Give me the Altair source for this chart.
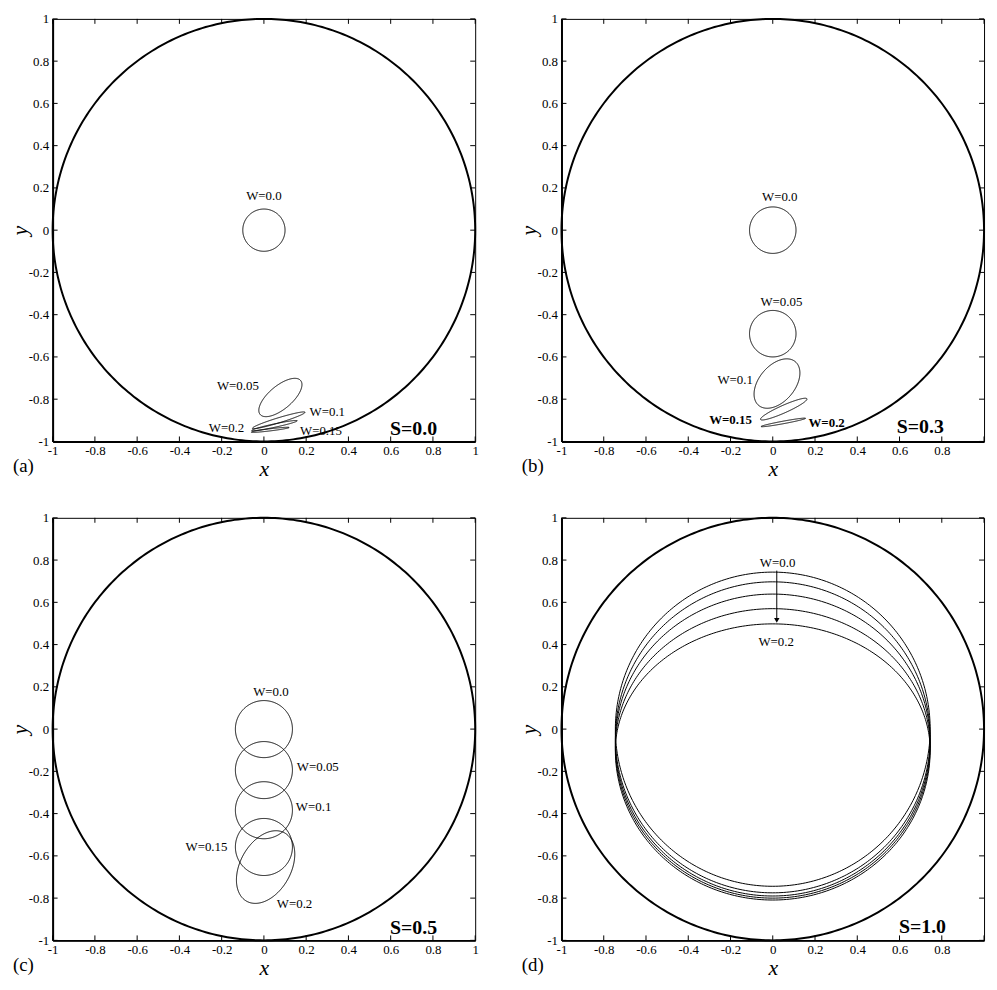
import altair as alt
import numpy as np
import pandas as pd

FONT = "Liberation Serif"

tick_values = [-1.0, -0.8, -0.6, -0.4, -0.2, 0.0, 0.2, 0.4, 0.6, 0.8, 1.0]
# right-hand panels show no "1" label on the x axis (cut off at the page edge)
x_labels_left = [-1.0, -0.8, -0.6, -0.4, -0.2, 0.0, 0.2, 0.4, 0.6, 0.8, 1.0]
x_labels_right = [-1.0, -0.8, -0.6, -0.4, -0.2, 0.0, 0.2, 0.4, 0.6, 0.8]

# Outer wall (unit circle): centre x, centre y, half-width, half-heights, tilt (deg)
wall = [0.0, 0.0, 1.0, 1.0, 1.0, 0.0]

# Closed curves, read off the picture as
# centre, half-width, upper / lower half-height and tilt angle (degrees)
curve_names = ["W=0.0", "W=0.05", "W=0.1", "W=0.15", "W=0.2"]

a_cx = [0.0, 0.078, 0.07, 0.05, 0.03]
a_cy = [0.0, -0.792, -0.90, -0.925, -0.945]
a_rx = [0.10, 0.125, 0.13, 0.11, 0.09]
a_ry_up = [0.10, 0.055, 0.012, 0.008, 0.005]
a_ry_dn = [0.10, 0.055, 0.012, 0.008, 0.005]
a_tilt = [0.0, 40.0, 17.0, 12.0, 7.0]

b_cx = [0.0, 0.0, 0.02, 0.052, 0.05]
b_cy = [0.0, -0.49, -0.726, -0.847, -0.91]
b_rx = [0.11, 0.11, 0.135, 0.12, 0.107]
b_ry_up = [0.11, 0.11, 0.085, 0.018, 0.006]
b_ry_dn = [0.11, 0.11, 0.085, 0.018, 0.006]
b_tilt = [0.0, 0.0, 50.0, 24.0, 10.5]

c_cx = [0.0, 0.0, 0.0, 0.0, 0.008]
c_cy = [0.0, -0.194, -0.384, -0.558, -0.653]
c_rx = [0.135, 0.135, 0.135, 0.135, 0.185]
c_ry_up = [0.135, 0.135, 0.135, 0.135, 0.12]
c_ry_dn = [0.135, 0.135, 0.135, 0.135, 0.12]
c_tilt = [0.0, 0.0, 0.0, 0.0, 61.0]

d_cx = [0.0, 0.0, 0.0, 0.0, 0.0]
d_cy = [0.0, -0.04, -0.06, -0.08, -0.10]
d_rx = [0.745, 0.745, 0.745, 0.745, 0.745]
d_ry_up = [0.743, 0.737, 0.699, 0.650, 0.598]
d_ry_dn = [0.744, 0.735, 0.730, 0.720, 0.709]
d_tilt = [0.0, 0.0, 0.0, 0.0, 0.0]

# Curve labels: text, x, y, bold
a_lab_text = ["W=0.0", "W=0.05", "W=0.1", "W=0.15", "W=0.2"]
a_lab_x = [0.0, -0.123, 0.30, 0.27, -0.177]
a_lab_y = [0.16, -0.74, -0.862, -0.95, -0.938]
a_lab_bold = [False, False, False, False, False]

b_lab_text = ["W=0.0", "W=0.05", "W=0.1", "W=0.15", "W=0.2"]
b_lab_x = [0.033, 0.041, -0.178, -0.20, 0.255]
b_lab_y = [0.158, -0.342, -0.707, -0.897, -0.912]
b_lab_bold = [False, False, False, True, True]

c_lab_text = ["W=0.0", "W=0.05", "W=0.1", "W=0.15", "W=0.2"]
c_lab_x = [0.033, 0.255, 0.235, -0.272, 0.145]
c_lab_y = [0.177, -0.18, -0.367, -0.56, -0.83]
c_lab_bold = [False, False, False, False, False]

d_lab_text = ["W=0.0", "W=0.2"]
d_lab_x = [0.023, 0.016]
d_lab_y = [0.786, 0.414]
d_lab_bold = [False, False]

# Panel tags and S values
panel_tags = ["(a)", "(b)", "(c)", "(d)"]
s_text = ["S=0.0", "S=0.3", "S=0.5", "S=1.0"]
s_x = [0.82, 0.81, 0.82, 0.82]
s_y = [-0.97, -0.96, -0.97, -0.966]

# Arrow in panel (d): x, y start, y end
d_arrow = [0.019, 0.75, 0.515]

W = 426
H = 426


def outline(name, cx, cy, rx, ry_up, ry_dn, tilt, n=361):
    t = np.linspace(0.0, 2.0 * np.pi, n)
    u = rx * np.cos(t)
    s = np.sin(t)
    v = np.where(s >= 0, ry_up * s, ry_dn * s)
    th = np.radians(tilt)
    x = cx + u * np.cos(th) - v * np.sin(th)
    y = cy + u * np.sin(th) + v * np.cos(th)
    return pd.DataFrame({"curve": name, "k": np.arange(n), "x": x, "y": y})


def curves_df(cx, cy, rx, ryu, ryd, tilt):
    parts = [outline(curve_names[i], cx[i], cy[i], rx[i], ryu[i], ryd[i], tilt[i])
             for i in range(len(cx))]
    return pd.concat(parts, ignore_index=True)


xs = alt.Scale(domain=[-1, 1], nice=False, zero=False)
ys = alt.Scale(domain=[-1, 1], nice=False, zero=False)

label_expr = "datum.value < 0 ? '-' + format(-datum.value, '~g') : format(datum.value, '~g')"


def make_x_axis(vals):
    return alt.Axis(
        values=vals, labelExpr=label_expr, title="x",
        titleFont=FONT, titleFontStyle="italic", titleFontWeight="normal", titleFontSize=22,
        titleColor="black", titleX=W / 2, titleY=34, titleBaseline="alphabetic",
        titleAlign="center",
        labelFont=FONT, labelFontSize=13, labelColor="black", labelPadding=3,
        labelFlush=False, labelOverlap=False,
        ticks=False, tickSize=0, domainColor="black", domainWidth=2, grid=False,
    )


y_axis = alt.Axis(
    values=tick_values, labelExpr=label_expr, title="y",
    titleFont=FONT, titleFontStyle="italic", titleFontWeight="normal", titleFontSize=22,
    titleColor="black", titleX=-33, titleY=H / 2, titleBaseline="middle", titleAlign="center",
    titleAngle=270,
    labelFont=FONT, labelFontSize=13, labelColor="black", labelPadding=4,
    labelFlush=False, labelOverlap=False,
    ticks=False, tickSize=0, domainColor="black", domainWidth=2, grid=False,
)

ticks_df = pd.DataFrame({"v": tick_values})


def panel(idx, cdf, lab_text, lab_x, lab_y, lab_bold, x_label_vals, arrow=None):
    x_axis = make_x_axis(x_label_vals)
    XQ = lambda f: alt.X(f, scale=xs, axis=x_axis)
    YQ = lambda f: alt.Y(f, scale=ys, axis=y_axis)
    wall_df = outline("wall", *wall)
    layers = []
    layers.append(
        alt.Chart(cdf).mark_line(color="black", strokeWidth=1, clip=True).encode(
            x=XQ("x:Q"), y=YQ("y:Q"), detail="curve:N", order="k:Q",
        )
    )
    layers.append(
        alt.Chart(wall_df).mark_line(color="black", strokeWidth=2).encode(
            x=XQ("x:Q"), y=YQ("y:Q"), order="k:Q",
        )
    )
    tk = alt.Chart(ticks_df).mark_rule(color="black", strokeWidth=1)
    layers.append(tk.encode(x=XQ("v:Q"), y=alt.value(H), y2=alt.value(H - 5)))
    layers.append(tk.encode(x=XQ("v:Q"), y=alt.value(0), y2=alt.value(5)))
    layers.append(tk.encode(y=YQ("v:Q"), x=alt.value(0), x2=alt.value(5)))
    layers.append(tk.encode(y=YQ("v:Q"), x=alt.value(W), x2=alt.value(W - 5)))

    lab_df = pd.DataFrame({"t": lab_text, "x": lab_x, "y": lab_y, "b": lab_bold})
    for bold in (False, True):
        sub = lab_df[lab_df["b"] == bold]
        if len(sub) == 0:
            continue
        layers.append(
            alt.Chart(sub).mark_text(
                font=FONT, fontSize=13, color="black", align="center", baseline="middle",
                fontWeight="bold" if bold else "normal",
            ).encode(x=XQ("x:Q"), y=YQ("y:Q"), text="t:N")
        )

    s_df = pd.DataFrame({"t": [s_text[idx]], "x": [s_x[idx]], "y": [s_y[idx]]})
    layers.append(
        alt.Chart(s_df).mark_text(
            font=FONT, fontSize=20, fontWeight="bold", color="black",
            align="right", baseline="alphabetic",
        ).encode(x=XQ("x:Q"), y=YQ("y:Q"), text="t:N")
    )
    tag_df = pd.DataFrame({"t": [panel_tags[idx]]})
    layers.append(
        alt.Chart(tag_df).mark_text(
            font=FONT, fontSize=19, color="black", align="left", baseline="middle",
        ).encode(text="t:N", x=alt.value(-40), y=alt.value(H + 25))
    )
    if arrow is not None:
        ar_df = pd.DataFrame({"x": [arrow[0]], "y": [arrow[1]], "y2": [arrow[2]]})
        layers.append(
            alt.Chart(ar_df).mark_rule(color="black", strokeWidth=1).encode(
                x=XQ("x:Q"), y=YQ("y:Q"), y2="y2:Q",
            )
        )
        layers.append(
            alt.Chart(ar_df).mark_point(
                shape="triangle-down", filled=True, color="black", size=30, opacity=1,
            ).encode(x=XQ("x:Q"), y=YQ("y2:Q"))
        )
    return alt.layer(*layers).properties(width=W, height=H)


pa = panel(0, curves_df(a_cx, a_cy, a_rx, a_ry_up, a_ry_dn, a_tilt),
           a_lab_text, a_lab_x, a_lab_y, a_lab_bold, x_labels_left)
pb = panel(1, curves_df(b_cx, b_cy, b_rx, b_ry_up, b_ry_dn, b_tilt),
           b_lab_text, b_lab_x, b_lab_y, b_lab_bold, x_labels_right)
pc = panel(2, curves_df(c_cx, c_cy, c_rx, c_ry_up, c_ry_dn, c_tilt),
           c_lab_text, c_lab_x, c_lab_y, c_lab_bold, x_labels_left)
pd_ = panel(3, curves_df(d_cx, d_cy, d_rx, d_ry_up, d_ry_dn, d_tilt),
            d_lab_text, d_lab_x, d_lab_y, d_lab_bold, x_labels_right, arrow=d_arrow)

chart = alt.concat(
    pa, pb, pc, pd_, columns=2,
    spacing={"row": 77, "column": 87}, bounds="flush",
).properties(
    padding={"left": 0, "top": 0, "right": 0, "bottom": 0},
    background="white",
).configure_view(stroke="black", strokeWidth=1)

chart.save("out.html", embed_options={"renderer": "svg", "actions": False})
